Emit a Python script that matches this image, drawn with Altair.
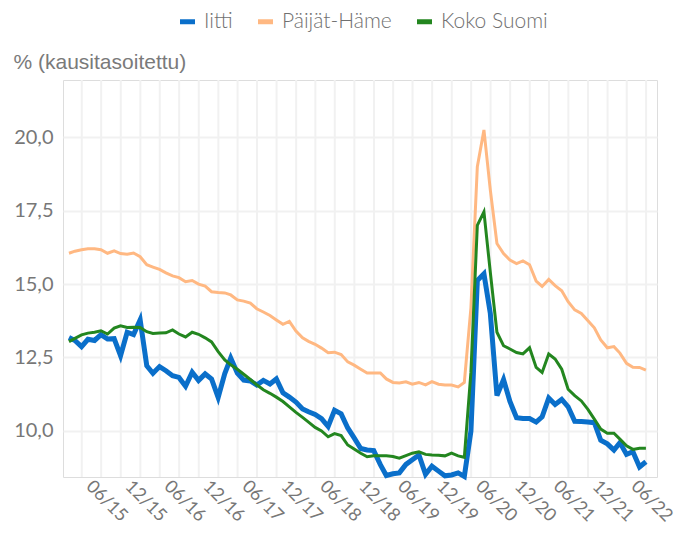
import altair as alt
import pandas as pd

series_names = ["Iitti", "Päijät-Häme", "Koko Suomi"]
series_colors = ["#0A6FCA", "#FFB882", "#23861F"]

iitti = [13.18, 13.08, 12.87, 13.12, 13.08, 13.28, 13.13, 13.14, 12.56, 13.36, 13.28, 13.78,
         12.22, 11.96, 12.19, 12.05, 11.88, 11.82, 11.52, 12.0, 11.72, 11.94, 11.77, 11.14,
         11.95, 12.48, 11.97, 11.73, 11.7, 11.56, 11.72, 11.6, 11.77, 11.3, 11.15, 10.98,
         10.75, 10.65, 10.56, 10.42, 10.15, 10.7, 10.58, 10.1, 9.76, 9.4, 9.35, 9.33,
         8.85, 8.48, 8.54, 8.57, 8.86, 9.02, 9.18, 8.52, 8.8, 8.63, 8.47, 8.5,
         8.57, 8.45, 10.0, 15.12, 15.35, 14.0, 11.2, 11.75, 11.0, 10.45, 10.42, 10.42,
         10.3, 10.48, 11.12, 10.9, 11.07, 10.82, 10.33, 10.32, 10.3, 10.28, 9.68, 9.56,
         9.35, 9.6, 9.2, 9.29, 8.77, 8.95]

paijat_hame = [16.05, 16.12, 16.17, 16.2, 16.2, 16.17, 16.05, 16.13, 16.04, 16.02, 16.06, 15.93,
               15.66, 15.58, 15.5, 15.38, 15.28, 15.22, 15.08, 15.12, 15.0, 14.93, 14.74, 14.71,
               14.7, 14.63, 14.46, 14.42, 14.35, 14.16, 14.05, 13.93, 13.78, 13.63, 13.73, 13.4,
               13.17, 13.05, 12.95, 12.82, 12.66, 12.68, 12.6, 12.35, 12.24, 12.1, 11.97, 11.97,
               11.97, 11.77, 11.65, 11.63, 11.67, 11.59, 11.65, 11.57, 11.68, 11.59, 11.56, 11.56,
               11.5, 11.65, 14.2, 19.0, 20.25, 18.2, 16.38, 16.04, 15.82, 15.7, 15.79, 15.66,
               15.1, 14.92, 15.16, 14.95, 14.77, 14.4, 14.12, 14.0, 13.76, 13.51, 13.1, 12.83,
               12.87, 12.65, 12.3, 12.17, 12.16, 12.07]

koko_suomi = [13.04, 13.15, 13.27, 13.33, 13.36, 13.41, 13.3, 13.5, 13.58, 13.52, 13.53, 13.52,
              13.38, 13.32, 13.33, 13.34, 13.44, 13.3, 13.2, 13.36, 13.29, 13.17, 13.03, 12.7,
              12.42, 12.25, 12.1, 11.93, 11.75, 11.57, 11.4, 11.28, 11.15, 11.0, 10.82, 10.63,
              10.46, 10.3, 10.12, 10.0, 9.8, 9.91, 9.84, 9.52, 9.38, 9.24, 9.12, 9.15,
              9.15, 9.15, 9.13, 9.07, 9.16, 9.24, 9.29, 9.2, 9.18, 9.17, 9.15, 9.24,
              9.15, 9.1, 12.0, 17.0, 17.46, 15.4, 13.36, 12.9, 12.79, 12.67, 12.62, 12.83,
              12.16, 11.99, 12.62, 12.45, 12.1, 11.42, 11.2, 11.02, 10.74, 10.4, 10.06, 9.92,
              9.92, 9.72, 9.49, 9.37, 9.41, 9.41]

# monthly observations Jan 2015 - Jun 2022, plotted at month end
months = pd.date_range("2015-01-01", periods=len(iitti), freq="MS") + pd.offsets.MonthEnd(0)
month_str = [d.strftime("%Y-%m-%dT00:00:00") for d in months]

# x tick labels (06/15 ... 06/22) and quarterly grid lines
label_dates = [alt.DateTime(year=y, month=m, date=1)
               for y in range(2015, 2023) for m in (6, 12) if not (y == 2022 and m == 12)]
grid_dates = [d.strftime("%Y-%m-%dT00:00:00")
              for d in pd.date_range("2015-04-01", "2022-07-01", freq="QS")]
y_ticks = [10.0, 12.5, 15.0, 17.5, 20.0]

rows = []
for name, vals in zip(series_names, [iitti, paijat_hame, koko_suomi]):
    for d, v in zip(month_str, vals):
        rows.append({"date": d, "series": name, "value": v})
df = pd.DataFrame(rows)
grid_df = pd.DataFrame({"date": grid_dates})

x_scale = alt.Scale(domain=[alt.DateTime(year=2015, month=1, date=3),
                            alt.DateTime(year=2022, month=8, date=21)])
y_scale = alt.Scale(domain=[8.43, 21.95], nice=False, zero=False)
color_scale = alt.Scale(domain=series_names, range=series_colors)

x_axis = alt.Axis(values=label_dates, format="%m/%y", title=None,
                  labelAngle=45, labelAlign="left", labelBaseline="top",
                  labelPadding=0, labelFont="Lato", labelFontSize=18,
                  labelColor="#777777", domain=False, ticks=False,
                  grid=False, labelOverlap=False)
x_enc = alt.X("date:T", scale=x_scale, axis=x_axis)

grid = alt.Chart(grid_df).mark_rule(color="#f1f1f1", strokeWidth=2).encode(x=x_enc)

def line(name, width):
    return alt.Chart(df).transform_filter(alt.datum.series == name).mark_line(
        strokeWidth=width
    ).encode(
        x=x_enc,
        y=alt.Y("value:Q", scale=y_scale,
                axis=alt.Axis(values=y_ticks,
                              labelExpr="replace(format(datum.value, '.1f'), '.', ',')",
                              title="% (kausitasoitettu)", titleAngle=0, titleAlign="left",
                              titleX=-50, titleY=-12, titleBaseline="alphabetic",
                              titleFont="Liberation Sans", titleFontSize=21,
                              titleFontWeight="normal", titleColor="#7a7a7a",
                              labelFont="Lato", labelFontSize=20,
                              labelColor="#777777",
                              labelPadding=10, domain=False, ticks=False,
                              grid=True, gridColor="#f1f1f1", gridWidth=2)),
        color=alt.Color("series:N", scale=color_scale,
                        legend=alt.Legend(title=None, orient="none", direction="horizontal",
                                          legendX=114, legendY=-69,
                                          symbolType="stroke", symbolStrokeWidth=5,
                                          symbolSize=225, labelFont="Lato",
                                          labelFontSize=21, labelFontWeight=300,
                                          labelColor="#707070",
                                          labelOffset=6, columnPadding=15)),
    )

chart = alt.layer(
    grid,
    line("Päijät-Häme", 3),
    line("Iitti", 5),
    line("Koko Suomi", 3),
).properties(
    width=594, height=397,
    autosize=alt.AutoSizeParams(type="none"),
    padding={"left": 55, "top": 72, "right": 27, "bottom": 52},
).configure_view(stroke=None).configure(background="white")

chart.save("out.html", embed_options={"renderer": "svg", "actions": False})
